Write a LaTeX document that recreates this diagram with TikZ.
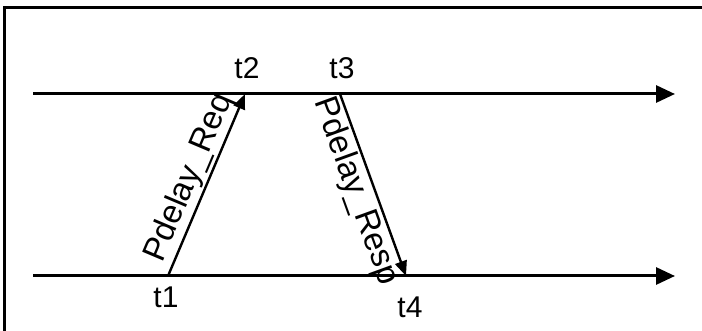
\documentclass[tikz,border=0pt]{standalone}
\usepackage{fontspec}
\setmainfont{Liberation Sans}
\usetikzlibrary{arrows.meta}
\begin{document}
\begin{tikzpicture}[x=1pt,y=-1pt,
  timeline/.style={line width=3pt,-{Triangle[length=19pt,width=17pt]}},
  msg/.style={line width=2.4pt,-{Triangle[length=15pt,width=12pt]}},
  lbl/.style={font=\fontsize{30}{36}\selectfont,inner sep=0pt},
  msglbl/.style={font=\fontsize{33}{40}\selectfont,inner sep=0pt},
  frameline/.style={line width=3pt}]
\useasboundingbox (0,0) rectangle (702,331);
\draw[frameline] (4.5,340) -- (4.5,8) -- (710,8);
% timelines
\coordinate (topL) at (33,94);
\coordinate (topR) at (675,94);
\coordinate (botL) at (33,276);
\coordinate (botR) at (675,276);
\draw[timeline] (topL) -- (topR);
\draw[timeline] (botL) -- (botR);
% event points
\coordinate (p1) at (168,276);
\coordinate (p2) at (245,94);
\coordinate (p3) at (340,94);
\coordinate (p4) at (406,276);
\draw[msg] (p1) -- node[msglbl,sloped,above=2pt] {Pdelay\_Req} (p2);
\draw[msg] (p3) -- node[msglbl,sloped,below=2pt] {Pdelay\_Resp} (p4);
% labels
\node[lbl] (t1) at (166,297) {t1};
\node[lbl] (t2) at (247,68) {t2};
\node[lbl] (t3) at (342,68) {t3};
\node[lbl] (t4) at (410,307) {t4};
\end{tikzpicture}
\end{document}
